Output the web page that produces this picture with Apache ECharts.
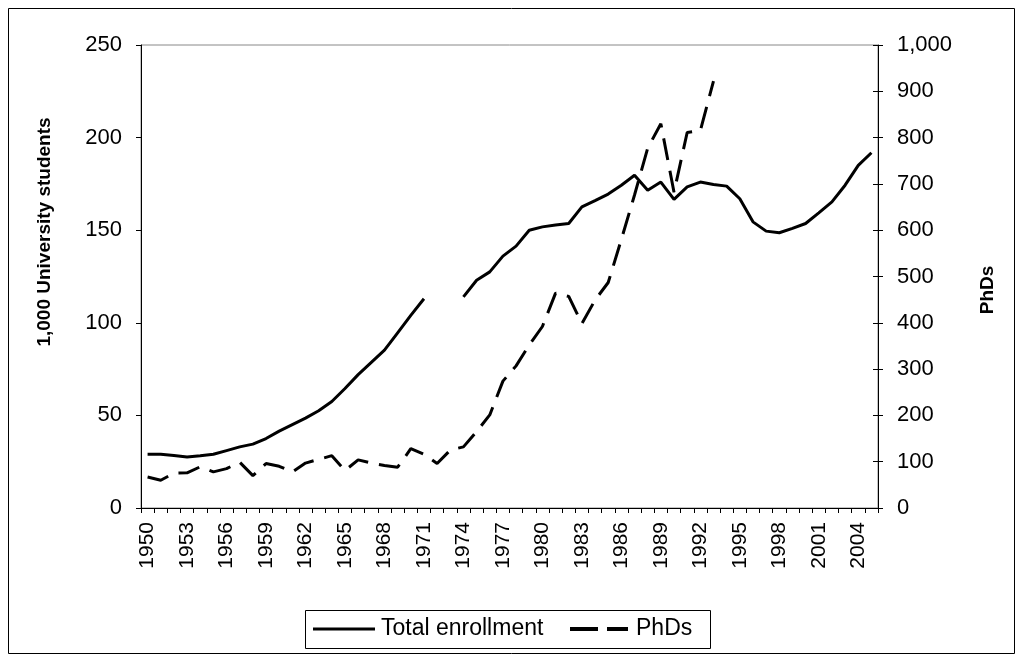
<!DOCTYPE html>
<html>
<head>
<meta charset="utf-8">
<script src="https://cdn.jsdelivr.net/npm/echarts@6/dist/echarts.min.js"></script>
<style>
html,body{margin:0;padding:0;background:#fff;}
#chart{width:1018px;height:656px;}
</style>
</head>
<body>
<div id="chart"></div>
<script>
var years = ['1950','1951','1952','1953','1954','1955','1956','1957','1958','1959',
  '1960','1961','1962','1963','1964','1965','1966','1967','1968','1969',
  '1970','1971','1972','1973','1974','1975','1976','1977','1978','1979',
  '1980','1981','1982','1983','1984','1985','1986','1987','1988','1989',
  '1990','1991','1992','1993','1994','1995','1996','1997','1998','1999',
  '2000','2001','2002','2003','2004','2005'];

// Total enrollment, thousands of university students (left axis)
var enrollment = [29,29,28.3,27.5,28.2,29,31,33,34.5,37.5,
  41.5,45,48.5,52.5,57.5,64.5,72,78.6,85.2,94.6,
  104,113,null,null,114,123,127.5,136,141.4,150,
  151.8,152.8,153.6,162.6,166,169.5,174.3,179.7,171.6,176,
  166.6,173.4,176,174.7,173.8,167,154.5,149.5,148.6,151,
  153.6,159.4,165.3,174.3,185,191.8];

// PhDs (right axis)
var phds = [67,60,75,76,89,78,85,99,70,96,
  90,78,97,105,113,81,104,97,92,88,
  128,116,96,125,132,165,201,274,307,352,
  392,464,457,398,449,487,580,676,777,830,
  682,811,815,922,null,null,null,null,null,null,
  null,null,null,null,null,null];

var seriesNames = ['Total enrollment', 'PhDs'];
var leftTicks = {min:0, max:250, interval:50};
var rightTicks = {min:0, max:1000, interval:100};

var FONT = 'Liberation Sans, Arial, sans-serif';
var DASH = [22, 11];
var chart = echarts.init(document.getElementById('chart'));
chart.setOption({
  animation:false,
  backgroundColor:'#fff',
  grid:{left:141, right:140, top:45, bottom:148, show:true, borderColor:'#888', borderWidth:1},
  xAxis:{
    type:'category', data:years, boundaryGap:true,
    axisLine:{lineStyle:{color:'#000', width:1}},
    axisTick:{show:true, interval:0, length:5, lineStyle:{color:'#000'}},
    axisLabel:{interval:2, rotate:90, color:'#000', fontSize:21, fontFamily:FONT, margin:14},
    splitLine:{show:false}
  },
  yAxis:[
    {type:'value', position:'left', min:leftTicks.min, max:leftTicks.max, interval:leftTicks.interval,
     axisLine:{show:true, lineStyle:{color:'#000'}},
     axisTick:{show:true, length:5, lineStyle:{color:'#000'}},
     axisLabel:{color:'#000', fontSize:22, fontFamily:FONT, margin:19},
     splitLine:{show:false}},
    {type:'value', position:'right', min:rightTicks.min, max:rightTicks.max, interval:rightTicks.interval,
     axisLine:{show:true, lineStyle:{color:'#000'}},
     axisTick:{show:true, length:5, lineStyle:{color:'#000'}},
     axisLabel:{color:'#000', fontSize:22, fontFamily:FONT, margin:19,
       formatter:function(v){return v.toLocaleString('en-US');}},
     splitLine:{show:false}},
    {type:'value', position:'right', min:rightTicks.min, max:rightTicks.max, interval:rightTicks.interval,
     axisLine:{show:false},
     axisTick:{show:true, inside:true, length:5, lineStyle:{color:'#000'}},
     axisLabel:{show:false}, splitLine:{show:false}}
  ],
  legend:{show:false},
  series:[
    {name:seriesNames[0], type:'line', yAxisIndex:0, data:enrollment,
     symbol:'none', connectNulls:false,
     lineStyle:{color:'#000', width:3}, itemStyle:{color:'#000'}},
    {name:seriesNames[1], type:'line', yAxisIndex:1, data:phds,
     symbol:'none', connectNulls:false,
     lineStyle:{color:'#000', width:3, type:DASH}, itemStyle:{color:'#000'}}
  ],
  graphic:[
    {type:'rect', left:6, top:6, shape:{width:1006, height:645},
     style:{fill:'none', stroke:'#000', lineWidth:1}, silent:true},
    {type:'text', x:45, y:232, rotation:Math.PI/2,
     style:{text:'1,000 University students', font:'bold 19px '+FONT, fill:'#000',
       textAlign:'center', textVerticalAlign:'middle'}},
    {type:'text', x:988, y:290, rotation:Math.PI/2,
     style:{text:'PhDs', font:'bold 19px '+FONT, fill:'#000',
       textAlign:'center', textVerticalAlign:'middle'}},
    // legend box
    {type:'rect', shape:{x:305.5, y:610.5, width:405, height:38},
     style:{fill:'#fff', stroke:'#000', lineWidth:1}},
    {type:'line', shape:{x1:313, y1:629, x2:375, y2:629},
     style:{stroke:'#000', lineWidth:3}},
    {type:'text', x:381, y:629,
     style:{text:seriesNames[0], font:'23px '+FONT, fill:'#000', textVerticalAlign:'middle'}},
    {type:'line', shape:{x1:570, y1:629, x2:628, y2:629},
     style:{stroke:'#000', lineWidth:4, lineDash:[28, 9]}},
    {type:'text', x:636, y:629,
     style:{text:seriesNames[1], font:'23px '+FONT, fill:'#000', textVerticalAlign:'middle'}}
  ]
});
</script>
</body>
</html>
